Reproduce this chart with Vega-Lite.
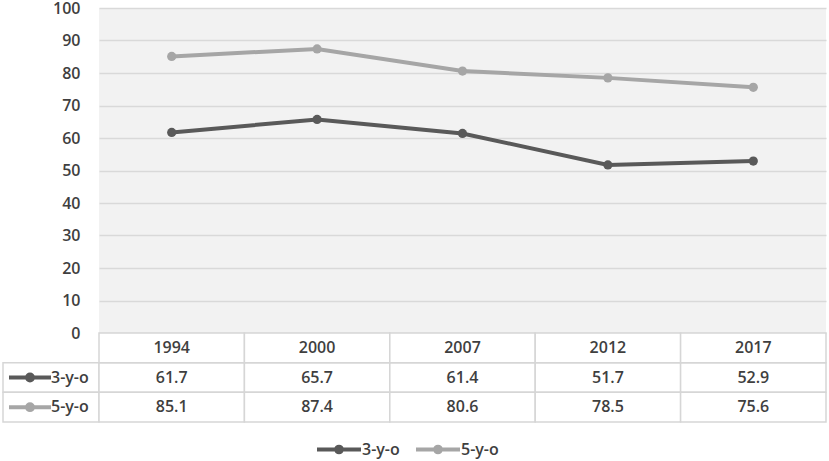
{
  "$schema": "https://vega.github.io/schema/vega-lite/v6.json",
  "padding": {"left": 1, "top": 0, "right": 0, "bottom": 0},
  "bounds": "flush",
  "spacing": 0,
  "columns": 2,
  "config": {
    "view": {"stroke": null},
    "font": "Open Sans",
    "text": {"font": "Open Sans", "fontSize": 16, "fontWeight": 600, "color": "#3f3f3f"}
  },
  "datasets": {
    "d": [
      {"year": "1994", "series": "3-y-o", "value": 61.7},
      {"year": "2000", "series": "3-y-o", "value": 65.7},
      {"year": "2007", "series": "3-y-o", "value": 61.4},
      {"year": "2012", "series": "3-y-o", "value": 51.7},
      {"year": "2017", "series": "3-y-o", "value": 52.9},
      {"year": "1994", "series": "5-y-o", "value": 85.1},
      {"year": "2000", "series": "5-y-o", "value": 87.4},
      {"year": "2007", "series": "5-y-o", "value": 80.6},
      {"year": "2012", "series": "5-y-o", "value": 78.5},
      {"year": "2017", "series": "5-y-o", "value": 75.6}
    ]
  },
  "concat": [
    {
      "width": 96,
      "height": 325,
      "data": {"name": "d"},
      "mark": {"type": "point", "opacity": 0, "size": 0},
      "encoding": {}
    },
    {
      "width": 727,
      "height": 325,
      "view": {"fill": "#f2f2f2", "stroke": null},
      "data": {"name": "d"},
      "encoding": {
        "x": {"field": "year", "type": "ordinal", "scale": {"type": "point", "padding": 0.5}, "axis": null},
        "y": {
          "field": "value", "type": "quantitative",
          "scale": {"domain": [0, 100], "nice": false},
          "axis": {
            "title": null, "values": [0,10,20,30,40,50,60,70,80,90,100],
            "domain": false, "ticks": false, "labelPadding": 19,
            "labelFont": "Open Sans", "labelFontSize": 16, "labelFontWeight": 600, "labelColor": "#3f3f3f",
            "gridColor": "#d9d9d9", "gridWidth": 1.5
          }
        },
        "color": {
          "field": "series", "type": "nominal",
          "scale": {"domain": ["3-y-o", "5-y-o"], "range": ["#595959", "#a6a6a6"]},
          "legend": null
        }
      },
      "layer": [
        {"mark": {"type": "line", "strokeWidth": 4}},
        {"mark": {"type": "point", "filled": true, "size": 85, "opacity": 1}}
      ]
    },
    {
      "width": 96,
      "height": 89,
      "data": {"name": "d"},
      "transform": [{"filter": "datum.year == '1994'"}],
      "encoding": {
        "y": {"field": "series", "type": "nominal", "scale": {"domain": ["hdr", "3-y-o", "5-y-o"], "paddingInner": 0, "paddingOuter": 0}, "axis": null}
      },
      "layer": [
        {"mark": {"type": "rect", "fill": "#ffffff", "stroke": "#d6d6d6", "strokeWidth": 1.5}},
        {
          "mark": {"type": "point", "filled": true, "size": 1764, "opacity": 1, "strokeWidth": 4, "xOffset": -21,
                   "shape": "M-1,0L1,0M0.14,0A0.14,0.14,0,1,1,-0.14,0A0.14,0.14,0,1,1,0.14,0Z"},
          "encoding": {
            "color": {"field": "series", "type": "nominal", "scale": {"domain": ["3-y-o", "5-y-o"], "range": ["#595959", "#a6a6a6"]}, "legend": null},
            "stroke": {"field": "series", "type": "nominal", "scale": {"domain": ["3-y-o", "5-y-o"], "range": ["#595959", "#a6a6a6"]}, "legend": null}
          }
        },
        {
          "mark": {"type": "text", "align": "left", "dx": 0},
          "encoding": {"text": {"field": "series"}}
        }
      ]
    },
    {
      "width": 727,
      "height": 89,
      "data": {"name": "d"},
      "encoding": {
        "x": {"field": "year", "type": "ordinal", "scale": {"type": "band", "paddingInner": 0, "paddingOuter": 0}, "axis": null}
      },
      "layer": [
        {
          "mark": {"type": "rect", "fill": "#ffffff", "stroke": "#d6d6d6", "strokeWidth": 1.5},
          "encoding": {"y": {"field": "series", "type": "nominal", "scale": {"domain": ["hdr", "3-y-o", "5-y-o"], "paddingInner": 0, "paddingOuter": 0}, "axis": null}}
        },
        {
          "transform": [{"filter": "datum.series == '3-y-o'"}],
          "mark": {"type": "rect", "fill": "#ffffff", "stroke": "#d6d6d6", "strokeWidth": 1.5},
          "encoding": {"y": {"datum": "hdr", "type": "nominal"}}
        },
        {
          "mark": {"type": "text"},
          "encoding": {
            "y": {"field": "series", "type": "nominal"},
            "text": {"field": "value", "type": "quantitative", "format": ".1f"}
          }
        },
        {
          "transform": [{"filter": "datum.series == '3-y-o'"}],
          "mark": {"type": "text"},
          "encoding": {
            "y": {"datum": "hdr", "type": "nominal"},
            "text": {"field": "year"}
          }
        }
      ]
    },
    {
      "width": 96,
      "height": 39,
      "data": {"name": "d"},
      "mark": {"type": "point", "opacity": 0, "size": 0},
      "encoding": {}
    },
    {
      "width": 727,
      "height": 39,
      "data": {"name": "d"},
      "transform": [{"filter": "datum.year == '1994'"}],
      "encoding": {
        "x": {"field": "series", "type": "nominal", "scale": {"type": "point", "padding": 0, "range": [240, 339]}, "axis": null}
      },
      "layer": [
        {
          "mark": {"type": "point", "filled": true, "size": 1936, "opacity": 1, "strokeWidth": 4, "yOffset": 8,
                   "shape": "M-1,0L1,0M0.13,0A0.13,0.13,0,1,1,-0.13,0A0.13,0.13,0,1,1,0.13,0Z"},
          "encoding": {
            "color": {"field": "series", "type": "nominal", "scale": {"domain": ["3-y-o", "5-y-o"], "range": ["#595959", "#a6a6a6"]}, "legend": null},
            "stroke": {"field": "series", "type": "nominal", "scale": {"domain": ["3-y-o", "5-y-o"], "range": ["#595959", "#a6a6a6"]}, "legend": null}
          }
        },
        {
          "mark": {"type": "text", "align": "left", "dx": 23, "dy": 8},
          "encoding": {"text": {"field": "series"}}
        }
      ]
    }
  ]
}
